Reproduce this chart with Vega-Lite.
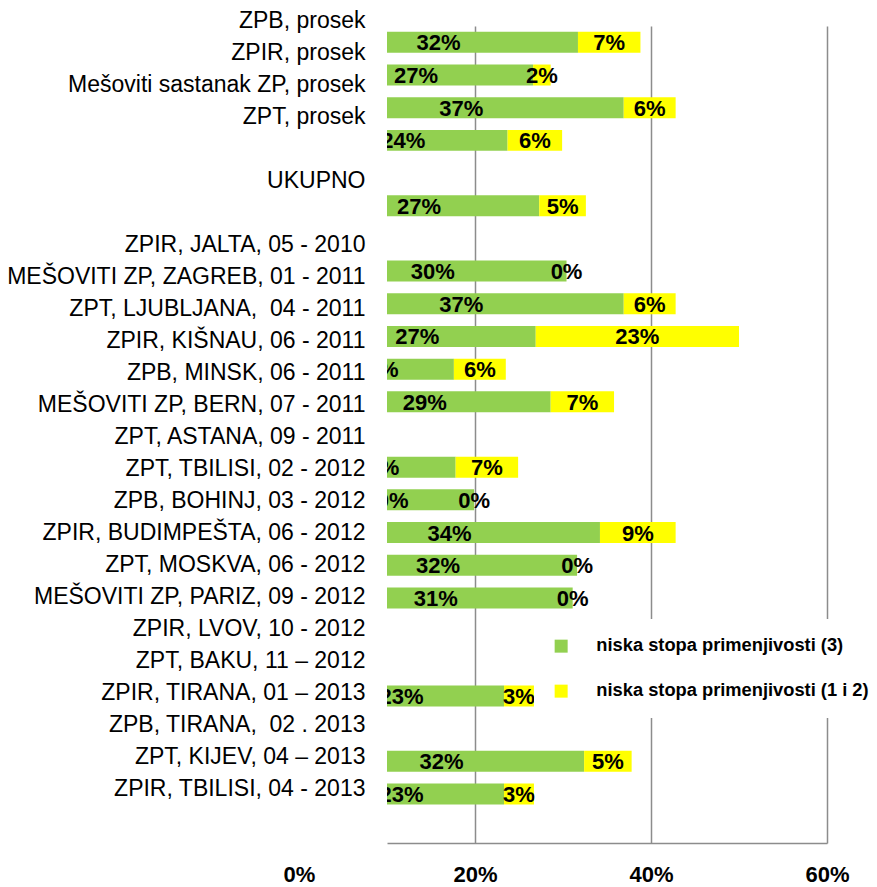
{
  "$schema": "https://vega.github.io/schema/vega-lite/v6.json",
  "autosize": {"type": "none"},
  "padding": {"left": 387, "top": 26, "right": 50, "bottom": 44},
  "width": 440,
  "height": 817,
  "background": "white",
  "config": {
    "view": {"stroke": null},
    "font": "Liberation Sans"
  },
  "datasets": {
    "bars": [
      {"bar": "r01", "series": "niska stopa primenjivosti (3)", "value": 0.317},
      {"bar": "r01", "series": "niska stopa primenjivosti (1 i 2)", "value": 0.071},
      {"bar": "r02", "series": "niska stopa primenjivosti (3)", "value": 0.266},
      {"bar": "r02", "series": "niska stopa primenjivosti (1 i 2)", "value": 0.020},
      {"bar": "r03", "series": "niska stopa primenjivosti (3)", "value": 0.369},
      {"bar": "r03", "series": "niska stopa primenjivosti (1 i 2)", "value": 0.059},
      {"bar": "r04", "series": "niska stopa primenjivosti (3)", "value": 0.237},
      {"bar": "r04", "series": "niska stopa primenjivosti (1 i 2)", "value": 0.062},
      {"bar": "r06", "series": "niska stopa primenjivosti (3)", "value": 0.273},
      {"bar": "r06", "series": "niska stopa primenjivosti (1 i 2)", "value": 0.053},
      {"bar": "r08", "series": "niska stopa primenjivosti (3)", "value": 0.304},
      {"bar": "r08", "series": "niska stopa primenjivosti (1 i 2)", "value": 0.0},
      {"bar": "r09", "series": "niska stopa primenjivosti (3)", "value": 0.369},
      {"bar": "r09", "series": "niska stopa primenjivosti (1 i 2)", "value": 0.059},
      {"bar": "r10", "series": "niska stopa primenjivosti (3)", "value": 0.269},
      {"bar": "r10", "series": "niska stopa primenjivosti (1 i 2)", "value": 0.231},
      {"bar": "r11", "series": "niska stopa primenjivosti (3)", "value": 0.176},
      {"bar": "r11", "series": "niska stopa primenjivosti (1 i 2)", "value": 0.059},
      {"bar": "r12", "series": "niska stopa primenjivosti (3)", "value": 0.286},
      {"bar": "r12", "series": "niska stopa primenjivosti (1 i 2)", "value": 0.072},
      {"bar": "r14", "series": "niska stopa primenjivosti (3)", "value": 0.178},
      {"bar": "r14", "series": "niska stopa primenjivosti (1 i 2)", "value": 0.071},
      {"bar": "r15", "series": "niska stopa primenjivosti (3)", "value": 0.199},
      {"bar": "r15", "series": "niska stopa primenjivosti (1 i 2)", "value": 0.0},
      {"bar": "r16", "series": "niska stopa primenjivosti (3)", "value": 0.342},
      {"bar": "r16", "series": "niska stopa primenjivosti (1 i 2)", "value": 0.086},
      {"bar": "r17", "series": "niska stopa primenjivosti (3)", "value": 0.316},
      {"bar": "r17", "series": "niska stopa primenjivosti (1 i 2)", "value": 0.0},
      {"bar": "r18", "series": "niska stopa primenjivosti (3)", "value": 0.311},
      {"bar": "r18", "series": "niska stopa primenjivosti (1 i 2)", "value": 0.0},
      {"bar": "r21", "series": "niska stopa primenjivosti (3)", "value": 0.233},
      {"bar": "r21", "series": "niska stopa primenjivosti (1 i 2)", "value": 0.034},
      {"bar": "r23", "series": "niska stopa primenjivosti (3)", "value": 0.324},
      {"bar": "r23", "series": "niska stopa primenjivosti (1 i 2)", "value": 0.054},
      {"bar": "r24", "series": "niska stopa primenjivosti (3)", "value": 0.233},
      {"bar": "r24", "series": "niska stopa primenjivosti (1 i 2)", "value": 0.034}
    ],
    "labels": [
      {"label": "ZPB, prosek"},
      {"label": "ZPIR, prosek"},
      {"label": "Mešoviti sastanak ZP, prosek"},
      {"label": "ZPT, prosek"},
      {"label": " "},
      {"label": "UKUPNO"},
      {"label": "  "},
      {"label": "ZPIR, JALTA, 05 - 2010"},
      {"label": "MEŠOVITI ZP, ZAGREB, 01 - 2011"},
      {"label": "ZPT, LJUBLJANA, \u00a004 - 2011"},
      {"label": "ZPIR, KIŠNAU, 06 - 2011"},
      {"label": "ZPB, MINSK, 06 - 2011"},
      {"label": "MEŠOVITI ZP, BERN, 07 - 2011"},
      {"label": "ZPT, ASTANA, 09 - 2011"},
      {"label": "ZPT, TBILISI, 02 - 2012"},
      {"label": "ZPB, BOHINJ, 03 - 2012"},
      {"label": "ZPIR, BUDIMPEŠTA, 06 - 2012"},
      {"label": "ZPT, MOSKVA, 06 - 2012"},
      {"label": "MEŠOVITI ZP, PARIZ, 09 - 2012"},
      {"label": "ZPIR, LVOV, 10 - 2012"},
      {"label": "ZPT, BAKU, 11 – 2012"},
      {"label": "ZPIR, TIRANA, 01 – 2013"},
      {"label": "ZPB, TIRANA, \u00a002 . 2013"},
      {"label": "ZPT, KIJEV, 04 – 2013"},
      {"label": "ZPIR, TBILISI, 04 - 2013"}
    ]
  },
  "resolve": {"scale": {"y": "independent"}, "axis": {"y": "independent"}},
  "layer": [
    {
      "data": {"name": "bars"},
      "transform": [
        {"stack": "value", "groupby": ["bar"], "sort": [{"field": "series", "order": "descending"}], "as": ["v0", "v1"]}
      ],
      "encoding": {
        "y": {
          "field": "bar",
          "type": "nominal",
          "scale": {
            "domain": ["r01","r02","r03","r04","r05","r06","r07","r08","r09","r10","r11","r12","r13","r14","r15","r16","r17","r18","r19","r20","r21","r22","r23","r24","r25"],
            "paddingInner": 0.358,
            "paddingOuter": 0.179
          },
          "axis": null
        }
      },
      "layer": [
        {
          "mark": {"type": "bar", "clip": true},
          "encoding": {
            "x": {
              "field": "v0",
              "type": "quantitative",
              "scale": {"domain": [0.1, 0.6], "nice": false, "zero": false},
              "axis": {
                "title": null,
                "values": [0.1, 0.2, 0.4, 0.6],
                "format": ".0%",
                "labelExpr": "datum.value < 0.15 ? '0%' : datum.label",
                "labelOffset": {"condition": {"test": "datum.value < 0.15", "value": -88}, "value": 0},
                "gridOpacity": {"condition": {"test": "datum.value < 0.15", "value": 0}, "value": 1},
                "grid": true,
                "gridColor": "#8c8c8c",
                "gridWidth": 1.5,
                "ticks": false,
                "domain": true,
                "domainColor": "#8c8c8c",
                "domainWidth": 1.5,
                "labelFont": "Liberation Sans",
                "labelFontWeight": "bold",
                "labelFontSize": 22,
                "labelColor": "black",
                "labelPadding": 21,
                "labelFlush": false,
                "labelOverlap": false,
                "labelBound": false
              }
            },
            "x2": {"field": "v1"},
            "color": {
              "field": "series",
              "type": "nominal",
              "scale": {
                "domain": ["niska stopa primenjivosti (3)", "niska stopa primenjivosti (1 i 2)"],
                "range": ["#92D050", "#FFFF00"]
              },
              "legend": {
                "orient": "none",
                "legendX": 147,
                "legendY": 593,
                "title": null,
                "symbolType": "square",
                "symbolSize": 169,
                "symbolStrokeWidth": 0,
                "symbolOpacity": 1,
                "labelFont": "Liberation Sans",
                "labelFontWeight": "bold",
                "labelFontSize": 18.3,
                "labelColor": "black",
                "labelOffset": 26,
                "labelLimit": 400,
                "rowPadding": 26,
                "padding": 18,
                "fillColor": "white"
              }
            }
          }
        },
        {
          "transform": [
            {"fold": ["v0", "v1"], "as": ["edge", "pos"]},
            {"aggregate": [{"op": "mean", "field": "pos", "as": "mid"}], "groupby": ["bar", "series", "value"]}
          ],
          "mark": {"type": "text", "clip": true, "font": "Liberation Sans", "fontWeight": "bold", "fontSize": 22, "color": "black", "align": "center", "baseline": "middle", "dy": 1},
          "encoding": {
            "x": {"field": "mid", "type": "quantitative"},
            "text": {"field": "value", "type": "quantitative", "format": ".0%"}
          }
        }
      ]
    },
    {
      "data": {"name": "labels"},
      "mark": {"type": "text", "opacity": 0},
      "encoding": {
        "text": {"value": ""},
        "y": {
          "field": "label",
          "type": "nominal",
          "sort": null,
          "scale": {"range": [-22, 778], "paddingInner": 0, "paddingOuter": 0},
          "axis": {
            "orient": "left",
            "title": null,
            "ticks": false,
            "tickSize": 0,
            "domain": false,
            "grid": false,
            "labelFont": "Liberation Sans",
            "labelFontSize": 23,
            "labelColor": "black",
            "labelPadding": 22,
            "labelLimit": 600,
            "labelBound": false,
            "labelOverlap": false
          }
        }
      }
    }
  ]
}
